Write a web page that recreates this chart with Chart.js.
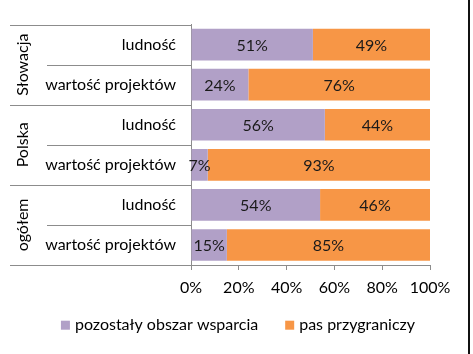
<!DOCTYPE html>
<html>
<head>
<meta charset="utf-8">
<script src="https://cdn.jsdelivr.net/npm/chart.js@4/dist/chart.umd.min.js"></script>
<style>
    html, body { margin: 0; padding: 0; background: #fff; }
    #wrap { position: relative; width: 468px; height: 354px; border-right: 2px solid #111; }
</style>
</head>
<body>
<div id="wrap"><canvas id="chart"></canvas></div>
<script>
// Data
const groups = ['Słowacja', 'Polska', 'ogółem'];
const subLabels = ['ludność', 'wartość projektów', 'ludność', 'wartość projektów', 'ludność', 'wartość projektów'];
const restArea = [51, 24, 56, 7, 54, 15];     // pozostały obszar wsparcia
const borderBelt = [49, 76, 44, 93, 46, 85];  // pas przygraniczy
const xTicks = ['0%', '20%', '40%', '60%', '80%', '100%'];

const FONT = 'Lato, "Open Sans", sans-serif';
const SIZE = 16;

// group labels + separator lines on the left of the y axis
const groupPlugin = {
    id: 'groupLabels',
    afterDraw(chart) {
        const ctx = chart.ctx;
        const y = chart.scales.y;
        const left = y.left;
        const right = chart.chartArea.left;
        const step = Math.abs(y.getPixelForValue(1) - y.getPixelForValue(0));
        ctx.save();
        ctx.strokeStyle = '#8c8c8c';
        ctx.lineWidth = 1;
        for (let i = 0; i <= subLabels.length; i++) {
            const py = Math.round(y.getPixelForValue(i) - step / 2) + 0.5;
            const x0 = (i % 2 === 0) ? left : left + 37;
            ctx.beginPath();
            ctx.moveTo(x0, py);
            ctx.lineTo(right, py);
            ctx.stroke();
        }
        ctx.fillStyle = '#000';
        ctx.font = SIZE + 'px ' + FONT;
        ctx.textAlign = 'center';
        ctx.textBaseline = 'middle';
        groups.forEach((g, gi) => {
            const cy = (y.getPixelForValue(gi * 2) + y.getPixelForValue(gi * 2 + 1)) / 2;
            ctx.save();
            ctx.translate(left + 13, cy);
            ctx.rotate(-Math.PI / 2);
            ctx.fillText(g, 0, 0);
            ctx.restore();
        });
        ctx.restore();
    }
};

// values in the middle of each bar segment
const valuePlugin = {
    id: 'values',
    afterDatasetsDraw(chart) {
        const ctx = chart.ctx;
        ctx.save();
        ctx.fillStyle = '#1a1a1a';
        ctx.font = SIZE + 'px ' + FONT;
        ctx.textAlign = 'center';
        ctx.textBaseline = 'middle';
        chart.data.datasets.forEach((ds, di) => {
            chart.getDatasetMeta(di).data.forEach((bar, i) => {
                const p = bar.getCenterPoint();
                ctx.fillText(ds.data[i] + '%', p.x, p.y + 1);
            });
        });
        ctx.restore();
    }
};

// legend under the axis, centred on the whole picture
const legendPlugin = {
    id: 'bottomLegend',
    afterDraw(chart) {
        const ctx = chart.ctx;
        const box = 9, gap = 5, between = 27;
        const cy = chart.scales.x.bottom + 20;
        ctx.save();
        ctx.font = SIZE + 'px ' + FONT;
        ctx.textBaseline = 'middle';
        const items = chart.data.datasets.map(ds => ({ text: ds.label, color: ds.backgroundColor, w: ctx.measureText(ds.label).width }));
        const total = items.reduce((s, it) => s + box + gap + it.w, 0) + between * (items.length - 1);
        let x = chart.width / 2 + 4 - total / 2;
        items.forEach(it => {
            ctx.fillStyle = it.color;
            ctx.fillRect(x, cy - box / 2, box, box);
            ctx.fillStyle = '#000';
            ctx.fillText(it.text, x + box + gap, cy);
            x += box + gap + it.w + between;
        });
        ctx.restore();
    }
};

new Chart(document.getElementById('chart'), {
    type: 'bar',
    data: {
        labels: subLabels,
        datasets: [
            { label: 'pozostały obszar wsparcia', data: restArea, backgroundColor: '#b1a0c7' },
            { label: 'pas przygraniczy', data: borderBelt, backgroundColor: '#f79646' }
        ]
    },
    options: {
        indexAxis: 'y',
        responsive: true,
        maintainAspectRatio: false,
        animation: false,
        datasets: { bar: { barPercentage: 0.79, categoryPercentage: 1 } },
        layout: { padding: { left: 10, right: 38, top: 21.4, bottom: 48.8 } },
        scales: {
            x: {
                stacked: true,
                min: 0,
                max: 100,
                ticks: {
                    stepSize: 20,
                    padding: 8,
                    maxRotation: 0,
                    color: '#000',
                    font: { family: FONT, size: SIZE },
                    callback: (v, i) => xTicks[i]
                },
                grid: { drawOnChartArea: false, tickLength: 5, color: '#8c8c8c' },
                border: { color: '#8c8c8c' }
            },
            y: {
                stacked: true,
                afterFit: (s) => { s.width = 181; },
                ticks: {
                    padding: 15,
                    color: '#000',
                    font: { family: FONT, size: SIZE }
                },
                grid: { display: false, drawTicks: false },
                border: { color: '#8c8c8c' }
            }
        },
        plugins: {
            legend: { display: false },
            tooltip: { enabled: false }
        }
    },
    plugins: [groupPlugin, valuePlugin, legendPlugin]
});
</script>
</body>
</html>
